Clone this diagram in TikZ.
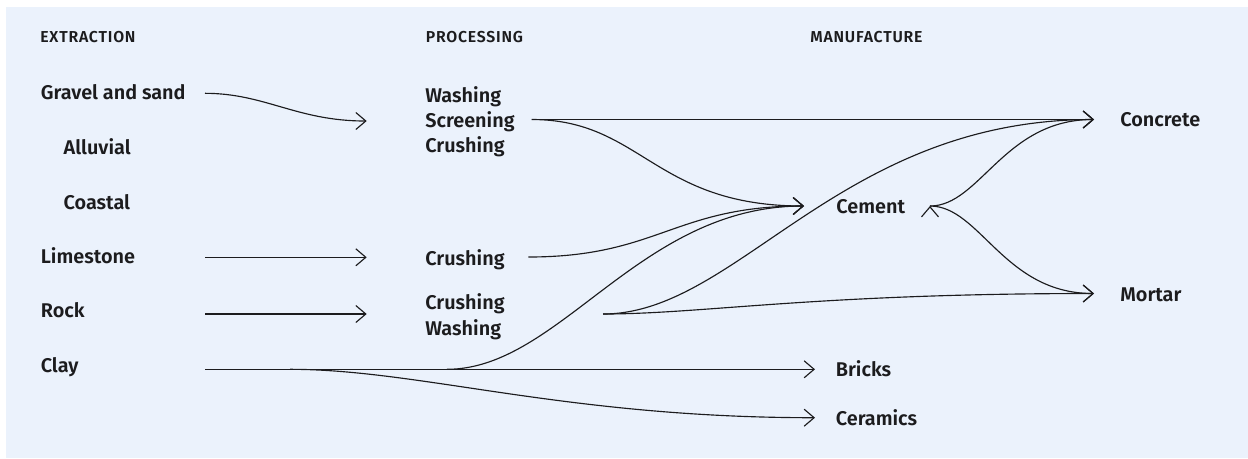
\documentclass[tikz,border=0pt]{standalone}
\usepackage{fontspec}
\setmainfont{Fira Sans}[BoldFont={Fira Sans SemiBold}]
\usetikzlibrary{arrows.meta}
\definecolor{panel}{RGB}{235,242,252}
\definecolor{ink}{RGB}{28,28,30}
\tikzset{every node/.style={align=left, anchor=base west, inner sep=0pt, text=ink}, >={Straight Barb[length=2mm,width=3.4mm]}, font=\fontsize{11.3}{14.35}\selectfont\bfseries}

\begin{document}
\begin{tikzpicture}[x=0.02cm, y=-0.02cm,
    stage/.style={font=\fontsize{9}{10}\selectfont\bfseries\addfontfeature{LetterSpace=5}},
    flow/.style={->, draw=ink, line width=0.65pt}]
  \useasboundingbox (0,0) rectangle (1248,458);
  \fill[panel] (6,7) rectangle (1248,458);

  \node[stage] (h-extr) at (40,42.7) {EXTRACTION};
  \node[stage] (h-proc) at (425.5,42.7) {PROCESSING};
  \node[stage] (h-manu) at (810,42.7) {MANUFACTURE};

  \node (gravel) at (40.5,99.3) {Gravel and sand};
  \node (alluvial) at (63.3,154) {Alluvial};
  \node (coastal) at (63.3,209) {Coastal};
  \node (limestone) at (40.5,263.3) {Limestone};
  \node (rock) at (40.5,317.7) {Rock};
  \node (clay) at (40.5,372.7) {Clay};

  \node (wash) at (425,152.7) {Washing\\Screening\\Crushing};
  \node (crush) at (425,265) {Crushing};
  \node (crushwash) at (425,335) {Crushing\\Washing};

  \node (cement) at (836,213.3) {Cement};
  \node (concrete) at (1120,126) {Concrete};
  \node (mortar) at (1120,301.7) {Mortar};
  \node (bricks) at (835.5,376) {Bricks};
  \node (ceramics) at (835.5,425) {Ceramics};

  \coordinate (gravel-o) at (205,93.3);
  \coordinate (limestone-o) at (205,257.3);
  \coordinate (rock-o) at (205,314);
  \coordinate (clay-o) at (205,369.3);
  \coordinate (clay-a) at (290,369.3);
  \coordinate (clay-b) at (447,369.3);
  \coordinate (wash-i) at (366.7,121);
  \coordinate (crush-i) at (366.7,257.3);
  \coordinate (crushwash-i) at (366.7,314);
  \coordinate (wash-o) at (531.7,119.5);
  \coordinate (crush-o) at (528.3,257);
  \coordinate (crushwash-o) at (603,314);
  \coordinate (cement-i) at (804,206);
  \coordinate (cement-o) at (930,206);
  \coordinate (concrete-i) at (1094,119.5);
  \coordinate (mortar-i) at (1094,293.5);
  \coordinate (bricks-i) at (815,369.3);
  \coordinate (ceramics-i) at (815,417.7);

  \path[flow] (gravel-o) edge[controls={+(60,0) and +(-70,0)}] (wash-i)
    (limestone-o) edge (crush-i)
    (rock-o) edge (crushwash-i)
    (clay-o) edge (bricks-i)
    (clay-a) edge[controls={+(130,0) and +(-250,0)}] (ceramics-i)
    (clay-b) edge[controls={+(113,0) and +(-165,0)}] (cement-i)
    (wash-o) edge (concrete-i)
      edge[controls={+(110,0) and +(-150,0)}] (cement-i)
    (crush-o) edge[controls={+(130,0) and +(-130,0)}] (cement-i)
    (crushwash-o) edge[controls={+(135,0) and +(-255,0)}] (concrete-i)
      edge[controls={+(100,0) and +(-280,0)}] (mortar-i)
    (cement-o) edge[controls={+(50,0) and +(-90,0)}] (concrete-i)
      edge[controls={+(50,0) and +(-90,0)}] (mortar-i);
\end{tikzpicture}
\end{document}
